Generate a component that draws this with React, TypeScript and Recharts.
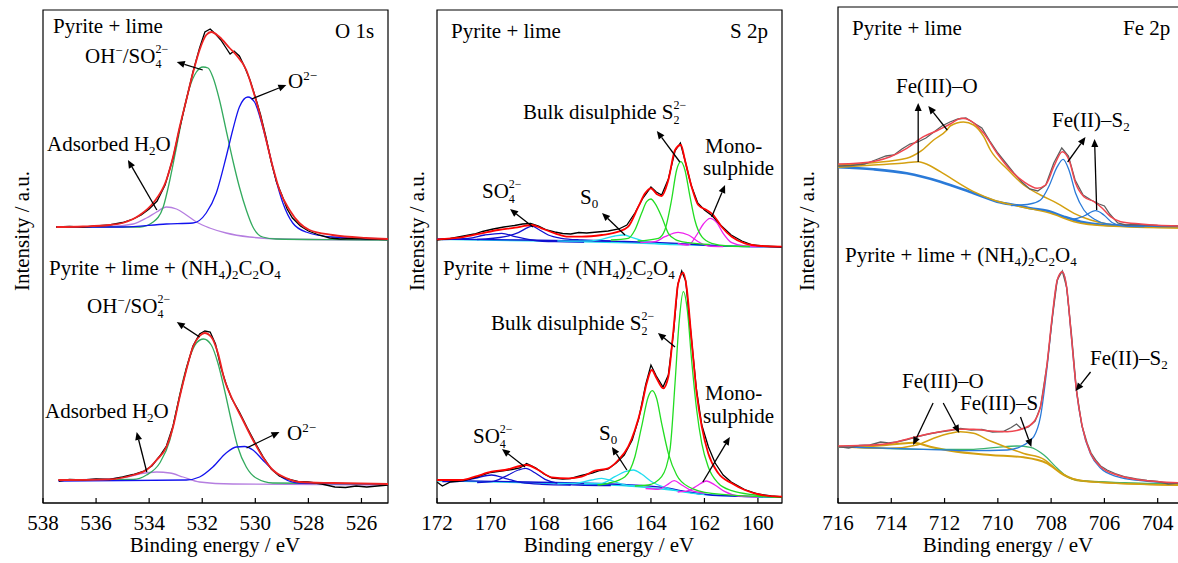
import React from "react";
import { LineChart, Line, XAxis, YAxis, ReferenceLine, ReferenceArea } from "recharts";

type Pt = [number, number];
type Arrow = [number, number, number, number];

// ---------- O 1s ----------
const o1Ticks = [538, 536, 534, 532, 530, 528, 526];

const o1Raw1: Pt[] = [[537.5,273],[537.0,273.5],[536.5,272.8],[536.0,274],[535.5,275],[535.0,277.5],[534.6,281],[534.3,285],[534.0,291],[533.7,299],[533.4,315],[533.1,342],[532.85,372],[532.6,400],[532.35,428],[532.1,452],[531.9,468],[531.7,471],[531.5,466],[531.3,460],[531.1,452],[530.95,446],[530.8,449],[530.6,444],[530.4,433],[530.2,420],[530.0,403],[529.8,385],[529.6,363],[529.4,338],[529.2,318],[529.0,305],[528.8,291],[528.6,282],[528.3,274],[528.0,269],[527.6,265],[527.2,262],[526.8,261],[526.3,261.5],[525.8,261],[525.0,260.5]];
const o1Fit1: Pt[] = [[537.5,273],[536.5,273.5],[535.5,275],[535.0,277],[534.35,285],[533.85,297],[533.35,320],[533.1,343],[532.85,373],[532.6,400],[532.35,427],[532.1,450],[531.85,465],[531.66,468],[531.35,463],[530.97,452],[530.72,445],[530.34,430],[530.09,410],[529.84,387],[529.59,360],[529.34,333],[529.09,310],[528.71,290],[528.34,277],[527.96,270],[527.09,265],[525.83,262],[525.0,261]];
const o1Oh1: Pt[] = [[537.5,273],[535.5,273],[534.35,273],[533.85,278],[533.47,293],[533.22,320],[532.97,353],[532.72,387],[532.47,413],[532.22,428],[531.97,433],[531.78,432],[531.6,423],[531.35,400],[531.1,370],[530.85,340],[530.6,313],[530.34,290],[530.09,273],[529.72,263],[529.22,261],[527.0,260.3],[525.0,260]];
const o1Ox1: Pt[] = [[537.5,273],[535.0,273],[533.35,276],[532.35,277],[531.85,287],[531.47,307],[531.1,343],[530.85,370],[530.6,393],[530.28,403],[530.03,398],[529.72,373],[529.47,347],[529.22,320],[528.96,297],[528.59,277],[528.09,268],[527.09,263],[525.0,261]];
const o1H2o1: Pt[] = [[537.5,273],[535.5,273.5],[534.6,276],[534.1,282],[533.72,288],[533.35,293],[532.97,291],[532.6,285],[532.22,278],[531.72,272],[531.1,267],[530.22,263],[528.96,261],[525.0,260]];

const o1Raw2: Pt[] = [[537.4,19],[537.0,20.5],[536.5,20],[536.0,21],[535.5,20.5],[535.0,23],[534.6,25.5],[534.2,29],[533.9,34],[533.6,44],[533.35,54],[533.1,74],[532.85,104],[532.6,131],[532.35,154],[532.1,166],[531.9,169],[531.7,168],[531.5,156],[531.3,133],[531.1,116],[530.9,102],[530.6,88],[530.3,72],[530.0,57],[529.7,43],[529.4,31],[529.1,24],[528.8,21],[528.4,18.5],[528.0,18],[527.5,16],[527.0,13],[526.6,12.5],[526.2,14],[525.8,13],[525.0,15]];
const o1Fit2: Pt[] = [[537.42,20],[535.48,20.7],[534.6,25],[534.1,30],[533.72,40],[533.35,53],[533.1,73],[532.85,103],[532.6,130],[532.35,153],[532.1,164],[531.91,167],[531.66,163],[531.41,147],[531.16,120],[530.85,100],[530.47,80],[530.09,60],[529.72,43],[529.34,30],[528.84,22],[528.34,18],[527.09,17],[525.0,16]];
const o1Oh2: Pt[] = [[537.42,20],[534.6,20.5],[534.1,25],[533.6,37],[533.22,60],[532.97,90],[532.72,120],[532.47,143],[532.22,157],[531.95,161],[531.66,155],[531.41,137],[531.16,110],[530.91,80],[530.66,53],[530.34,33],[529.97,22],[529.34,17],[525.0,16]];
const o1Ox2: Pt[] = [[537.42,19],[532.6,20],[532.1,23],[531.6,33],[531.1,47],[530.72,53],[530.41,53.5],[530.09,50],[529.72,40],[529.34,30],[528.96,22],[528.34,17],[527.0,16.5],[525.0,16]];
const o1H2o2: Pt[] = [[537.42,20],[535.5,21],[534.85,23],[534.35,26],[533.72,28],[533.22,27],[532.72,23],[532.1,18],[530.85,16],[525.0,15]];

const o1Arrows: Arrow[] = [[531.98,430,532.96,438],[530.14,401,528.83,415],[533.71,290,534.8,340],[532.1,163,532.96,178],[534.09,28,534.47,68],[530.33,52,529.09,68]];

// ---------- S 2p ----------
const s2Ticks = [172, 170, 168, 166, 164, 162, 160];

const s2Raw1: Pt[] = [[172,263],[171.5,264.5],[171.0,267],[170.6,269],[170.3,271.5],[169.9,274],[169.5,276],[169.1,277.5],[168.8,279],[168.5,279.5],[168.2,277],[167.9,273],[167.6,271],[167.3,269.5],[167.0,269],[166.7,270.5],[166.4,270],[166.0,271],[165.6,272],[165.2,274],[164.9,278],[164.6,290],[164.3,305],[164.0,316],[163.8,311],[163.6,308],[163.35,324],[163.1,352],[162.9,360],[162.75,345],[162.5,318],[162.25,300],[162.0,293],[161.7,287],[161.4,278],[161.0,268],[160.6,262],[160.2,258],[159.8,257],[159.1,256]];
const s2Fit1: Pt[] = [[172.0,263.7],[171.08,265.7],[170.33,269.7],[169.71,273],[169.08,275.3],[168.46,278],[168.09,274.7],[167.59,269.7],[167.09,266.3],[166.59,266.3],[165.84,268],[165.22,271.3],[164.85,276.3],[164.47,296.3],[164.22,309.7],[164.0,314.7],[163.79,309],[163.6,307],[163.35,323],[163.1,353],[162.88,358],[162.73,343],[162.48,316.3],[162.23,298],[161.92,293],[161.67,288],[161.36,276.3],[160.98,266.3],[160.49,259.7],[159.86,257],[159.11,256.3]];
const s2SoA1: Pt[] = [[170.5,263.5],[169.46,266.3],[168.96,270.3],[168.59,275.7],[168.44,277],[168.21,273.7],[167.84,268],[167.34,264.7],[166.59,263],[165.5,262]];
const s2SoB1: Pt[] = [[171.8,263.5],[170.83,264.7],[170.21,268],[169.58,269.7],[169.08,266.3],[168.46,263],[167.59,261.3],[166.5,261]];
const s2S01: Pt[] = [[167.5,262.2],[166.59,261.8],[165.84,263.7],[165.35,267],[165.03,268],[164.72,265.7],[164.22,261.3],[163.6,259],[162.8,258.3]];
const s2BulkA1: Pt[] = [[165.5,263],[164.85,264.7],[164.6,273],[164.35,289.7],[164.16,301.3],[164.0,304],[163.85,299.7],[163.6,286.3],[163.35,269.7],[163.1,263.7],[162.6,260.3],[161.8,258.5]];
const s2BulkB1: Pt[] = [[164.5,262],[163.72,264.7],[163.48,273],[163.23,303],[163.04,333],[162.88,341.3],[162.73,333],[162.54,306.3],[162.36,283],[162.1,266.3],[161.73,259.7],[161.11,257],[160.3,256.5]];
const s2MonoA1: Pt[] = [[163.0,259.5],[162.6,258],[162.29,268],[162.04,279],[161.79,284.7],[161.54,280.3],[161.3,269.7],[160.98,260.3],[160.49,257],[159.8,256.3]];
const s2MonoB1: Pt[] = [[164.4,260.5],[163.85,261.3],[163.48,266.3],[162.98,270.7],[162.6,268],[162.23,261.3],[161.85,257],[161.3,256.5]];
const s2BgC1: Pt[] = [[172,263.7],[168.59,262.3],[164.85,260.3],[162.36,258],[159.11,255.7]];
const s2BgB1: Pt[] = [[172,264],[168.6,263],[165.0,261.5],[163.0,259.5],[161.5,257.2],[159.11,256.2]];

const s2Raw2: Pt[] = [[172,21],[171.8,17],[171.5,21],[171.0,22.5],[170.5,26],[170.0,30.5],[169.6,32],[169.2,33.5],[168.9,35],[168.65,39.5],[168.3,35],[168.0,29],[167.7,25],[167.3,24],[167.0,24.5],[166.6,27.5],[166.2,30],[165.9,32.5],[165.6,34],[165.3,40],[165.0,48],[164.7,63],[164.45,85],[164.2,118],[164.0,138],[163.8,127],[163.55,116],[163.35,128],[163.15,172],[163.0,218],[162.85,232],[162.7,222],[162.5,168],[162.3,114],[162.1,78],[161.85,56],[161.6,40],[161.3,28],[161.0,21],[160.5,13.5],[160.0,9],[159.5,7],[159.05,6]];
const s2Fit2: Pt[] = [[172.0,23],[171.08,23],[170.58,26.3],[169.96,31.3],[169.46,33],[168.65,38],[168.21,33],[167.71,25.7],[167.09,24.7],[166.59,26.3],[166.09,32.3],[165.6,34.7],[165.22,43],[164.85,56.3],[164.6,73],[164.35,96.3],[164.16,119.7],[163.97,133],[163.79,124.7],[163.54,114.7],[163.35,126.3],[163.17,169.7],[162.98,219.7],[162.79,230.3],[162.67,216.3],[162.48,163],[162.29,109.7],[162.1,76.3],[161.86,49.7],[161.48,29.7],[160.98,19.7],[160.49,13],[159.86,8],[159.05,6.3]];
const s2SoA2: Pt[] = [[170.5,20.5],[169.96,21.3],[169.46,26.3],[168.96,33],[168.68,34.7],[168.34,30.3],[167.96,23.7],[167.46,19.7],[166.72,18],[165.5,17.5]];
const s2SoB2: Pt[] = [[171.8,21.5],[171.33,21.3],[170.58,24.7],[169.96,28],[169.46,24.7],[168.83,20.3],[168.09,18.7],[167.0,18]];
const s2S0A2: Pt[] = [[166.5,19.5],[165.84,19.7],[165.35,26.3],[164.97,31.3],[164.66,33],[164.35,29],[163.97,21.3],[163.48,15.7],[162.85,11.3],[162.0,8.5]];
const s2S0B2: Pt[] = [[167.5,19.5],[166.84,19.7],[166.22,23],[165.84,24.7],[165.47,22.3],[164.97,18],[164.3,16.5]];
const s2BulkA2: Pt[] = [[166.0,18],[165.6,19.7],[164.97,26.3],[164.6,46.3],[164.35,76.3],[164.1,106.3],[163.95,112.3],[163.79,104.7],[163.6,79.7],[163.35,49.7],[163.04,28],[162.6,16.3],[161.73,9.7],[159.11,5.7]];
const s2BulkB2: Pt[] = [[164.6,17],[164.1,18],[163.6,26.3],[163.29,53],[163.1,119.7],[162.95,179.7],[162.79,211.3],[162.64,193],[162.48,143],[162.29,93],[162.1,59.7],[161.86,36.3],[161.48,19.7],[160.98,12.3],[160.11,8],[159.11,5.7]];
const s2MonoA2: Pt[] = [[163.0,11],[162.6,12.3],[162.29,17],[161.92,22],[161.61,18],[161.23,11.3],[160.74,7],[160.0,6]];
const s2MonoB2: Pt[] = [[164.2,14.5],[163.72,13.7],[163.41,18],[163.13,22.3],[162.85,18],[162.48,12.3],[162.0,10]];
const s2BgC2: Pt[] = [[172,22.3],[168.59,20.3],[164.85,17],[162.98,12.3],[161.73,8],[159.11,5.7]];
const s2BgB2: Pt[] = [[172,22.6],[168.6,21],[165.0,18.5],[163.5,15.5],[162.5,10.5],[161.5,7.5],[159.11,6]];

const s2Arrows: Arrow[] = [[162.92,341,163.78,372],[161.73,286,161.23,318],[168.41,276,169.27,294],[164.97,268,165.83,290],[163.1,156,163.74,170],[162.06,21,161.05,66],[168.71,36,169.57,54],[164.9,33,165.46,56]];

// ---------- Fe 2p ----------
const feTicks = [716, 714, 712, 710, 708, 706, 704];

const feRaw1: Pt[] = [[716,337],[715.5,337.5],[715,339],[714.6,343],[714.2,347],[713.9,348],[713.6,354],[713.3,359],[713.0,361],[712.7,365],[712.4,371],[712.1,377],[711.8,381],[711.5,384],[711.2,385],[710.9,380],[710.6,375],[710.3,362],[710.0,350],[709.7,340],[709.4,330],[709.1,321],[708.8,314],[708.5,312],[708.2,318],[707.9,340],[707.6,355],[707.35,347],[707.1,323],[706.8,308],[706.5,303],[706.2,299],[706.0,297],[705.8,289],[705.5,280],[705.2,278],[704.8,278.5],[704.4,278],[704.0,277.5],[703.2,277]];
const feFit1: Pt[] = [[715.99,339],[715.3,339.7],[714.54,342.3],[714.04,346.3],[713.42,354.7],[712.79,366.3],[712.29,372.3],[711.79,379],[711.35,384.7],[711.03,382.3],[710.53,369.7],[710.03,349.7],[709.53,333],[709.03,321.3],[708.52,314.7],[708.21,318],[707.9,336.3],[707.58,351.3],[707.33,343],[707.08,319.7],[706.77,306.3],[706.39,301.3],[706.08,294.7],[705.77,286.3],[705.39,281.3],[704.64,279],[704.01,277.7],[703.22,277]];
const feOMain1: Pt[] = [[715.99,338],[714.67,340.3],[713.42,344.7],[712.92,351.3],[712.41,363],[711.91,373],[711.79,377],[711.29,381],[710.91,378],[710.53,366.3],[710.28,353],[709.65,334],[709.03,318],[708.4,308],[707.77,299.7],[707.14,289.7],[706.52,283],[705.89,279],[705.26,277],[703.22,275.3]];
const feOSmall1: Pt[] = [[715.99,335.7],[714.67,338],[713.6,339.7],[712.98,341.3],[712.6,338],[712.16,331.3],[710.91,311.3],[710.16,303],[709.15,296.3],[708.02,289.7],[707.14,281.3],[705.89,277],[703.22,275]];
const feBg1: Pt[] = [[715.99,335.7],[714.67,333.7],[713.42,329.7],[712.16,321.3],[710.91,309.7],[710.03,301.3],[709.15,297],[708.78,294.7],[708.15,292.3],[707.52,286.3],[706.89,281.3],[705.89,278],[704.5,277],[703.22,276.3]];
const feS2Main1: Pt[] = [[709.5,297.5],[708.8,299],[708.4,303],[708.09,316.3],[707.77,336.3],[707.55,343.7],[707.33,333],[707.08,309.7],[706.77,293],[706.39,284],[705.89,279],[705.26,277.7],[703.22,276.3]];
const feS2Small1: Pt[] = [[707.6,287],[707.14,284],[706.77,287],[706.33,292.3],[706.02,288],[705.7,280.3],[705.26,277],[704.5,276.5]];

const feRaw2: Pt[] = [[716,56.5],[715.6,55],[715.2,57.5],[714.8,58],[714.4,61],[714.1,60],[713.8,61],[713.4,63.5],[713.0,66.5],[712.6,69],[712.2,71],[711.8,72.5],[711.4,74.5],[711.0,73],[710.6,73.5],[710.2,71],[709.8,71.5],[709.5,75.5],[709.3,79],[709.1,74],[708.85,76],[708.6,82],[708.4,96],[708.15,139],[707.95,186],[707.77,223],[707.58,232],[707.42,216],[707.24,170],[707.05,113],[706.85,78],[706.65,60],[706.5,50],[706.3,42],[706.14,37],[705.9,33],[705.6,29.5],[705.2,26],[704.8,24],[704.4,22.5],[704.0,21.5],[703.6,19],[703.2,20]];
const feFit2: Pt[] = [[715.99,57],[714.67,58],[714.04,59.7],[713.42,63.7],[712.79,68],[712.16,71.3],[711.54,73.7],[710.91,73.7],[710.28,72],[709.65,71.3],[709.03,74.7],[708.65,81.3],[708.4,96.3],[708.15,139.7],[707.96,186.3],[707.77,223],[707.58,231.3],[707.42,216.3],[707.25,169.7],[707.05,113],[706.83,76.3],[706.52,49.7],[706.14,36.3],[705.52,28],[704.64,23],[703.22,20.3]];
const feS2_2: Pt[] = [[715.99,56.3],[712.79,53.7],[710.91,52.3],[709.65,53],[709.03,58],[708.65,66.3],[708.4,86.3],[708.15,136.3],[707.96,184.7],[707.77,222.3],[707.58,231],[707.42,215.7],[707.25,169],[707.05,112.3],[706.83,75.7],[706.52,49],[706.14,34.7],[705.52,26.3],[704.64,22.3],[703.22,19.7]];
const feS3_2: Pt[] = [[715.99,56.3],[712.79,53.7],[710.91,53.7],[710.03,55.7],[709.28,57],[708.78,55.7],[708.27,48],[707.77,34.7],[707.39,26.3],[706.89,22.3],[705.26,20.3],[703.22,19]];
const feOMain2: Pt[] = [[715.99,56.3],[714.04,54.7],[713.04,58],[712.41,64.7],[711.79,69.7],[711.41,71.3],[710.91,69.7],[710.28,62],[709.65,55.5],[709.03,49.5],[708.27,43.7],[707.77,33],[707.27,24.7],[706.52,21.3],[703.22,18]];
const feOSmall2: Pt[] = [[715.99,56.3],[714.67,57],[713.79,59],[713.17,60.3],[712.54,56.3],[711.79,52.3],[710.28,48],[709.03,45.7],[708.15,39.7],[707.52,28],[706.89,22.3],[703.22,18]];

const feArrows: Arrow[] = [[712.99,341,712.99,400],[711.9,373,712.61,397],[707.38,341,706.71,366],[706.29,293,706.37,364],[712.43,100,713.18,58],[712.05,100,711.45,70],[709.15,86,708.74,56],[706.52,131,707.08,112]];

// ---------- drawing ----------
const FONT = '"Liberation Serif", "Times New Roman", serif';
const rows = (a: Pt[]) => a.map(([e, v]) => ({ e, v }));

type Series = { d: Pt[]; c: string; w?: number; raw?: boolean };

function Tick(props: any) {
  const { x, y, payload } = props;
  return (
    <g>
      <line x1={x} x2={x} y1={y} y2={y - 5} stroke="#000" strokeWidth={1.2} />
      <text x={x} y={y + 27} textAnchor="middle" fontSize={21} fontFamily={FONT} fill="#000">
        {payload.value}
      </text>
    </g>
  );
}

function ArrowShape(p: any) {
  const { x1, y1, x2, y2 } = p;
  const dx = x2 - x1;
  const dy = y2 - y1;
  const len = Math.hypot(dx, dy) || 1;
  const ux = dx / len;
  const uy = dy / len;
  const bx = x2 - ux * 8;
  const by = y2 - uy * 8;
  const pts = `${x2},${y2} ${bx - uy * 3.5},${by + ux * 3.5} ${bx + uy * 3.5},${by - ux * 3.5}`;
  return (
    <g>
      <line x1={x1} y1={y1} x2={bx} y2={by} stroke="#000" strokeWidth={1.3} />
      <polygon points={pts} fill="#000" />
    </g>
  );
}

interface PanelCfg {
  left: number;
  width: number;
  ml: number;
  mr: number;
  mt: number;
  xDom: [number, number];
  yDom: [number, number];
  ticks: number[];
  series: Series[];
  arrows: Arrow[];
}

function Panel({ cfg }: { cfg: PanelCfg }) {
  return (
    <div style={{ position: "absolute", left: cfg.left, top: 0 }}>
      <LineChart width={cfg.width} height={563} margin={{ top: cfg.mt, right: cfg.mr, bottom: 0, left: cfg.ml }}>
        <XAxis xAxisId="b" dataKey="e" type="number" domain={cfg.xDom} reversed allowDataOverflow ticks={cfg.ticks} interval={0} height={60} tickSize={0} tickMargin={0} tickLine={false} axisLine={{ stroke: "#000", strokeWidth: 1.2 }} tick={<Tick />} />
        <YAxis yAxisId="l" type="number" domain={cfg.yDom} allowDataOverflow width={0} hide />
        {cfg.series.map((s, i) => (
          <Line
            key={i}
            xAxisId="b"
            yAxisId="l"
            data={rows(s.d)}
            dataKey="v"
            type={s.raw ? "linear" : "monotone"}
            stroke={s.c}
            strokeWidth={s.w ?? 1.3}
            dot={false}
            activeDot={false}
            isAnimationActive={false}
          />
        ))}
        {cfg.arrows.map((a, i) => (
          <ReferenceLine
            key={"a" + i}
            xAxisId="b"
            yAxisId="l"
            ifOverflow="visible"
            segment={[{ x: a[0], y: a[1] }, { x: a[2], y: a[3] }]}
            shape={ArrowShape}
          />
        ))}
        <ReferenceArea
          xAxisId="b"
          yAxisId="l"
          x1={cfg.xDom[0]}
          x2={cfg.xDom[1]}
          y1={cfg.yDom[0]}
          y2={cfg.yDom[1]}
          ifOverflow="visible"
          fill="none"
          fillOpacity={0}
          stroke="#000"
          strokeWidth={1.2}
          strokeOpacity={1}
        />
      </LineChart>
    </div>
  );
}

const O_RED = "#ee2222", O_GREEN = "#33aa5e", O_BLUE = "#1212ee", O_PURP = "#b57ee0";
const S_GREEN = "#22dd22", S_MAG = "#ee22ee", S_CYAN = "#22ddf0", S_BLUE = "#1010d0";
const F_RED = "#ef4650", F_GRAY = "#5e5e5e", F_GOLD = "#d4a010", F_BLUE = "#2a7ad8", F_GREEN = "#3cb371";

const panels: PanelCfg[] = [
  {
    left: 0, width: 400, ml: 43, mr: 12, mt: 10, xDom: [525, 538], yDom: [-3, 490], ticks: o1Ticks,
    series: [
      { d: o1H2o1, c: O_PURP }, { d: o1Oh1, c: O_GREEN }, { d: o1Ox1, c: O_BLUE },
      { d: o1Raw1, c: "#000", raw: true }, { d: o1Fit1, c: O_RED, w: 1.8 },
      { d: o1H2o2, c: O_PURP }, { d: o1Oh2, c: O_GREEN }, { d: o1Ox2, c: O_BLUE },
      { d: o1Raw2, c: "#000", raw: true }, { d: o1Fit2, c: O_RED, w: 1.8 },
    ],
    arrows: o1Arrows,
  },
  {
    left: 395, width: 400, ml: 42, mr: 13, mt: 10, xDom: [159.1, 172], yDom: [0, 493], ticks: s2Ticks,
    series: [
      { d: s2BgC1, c: S_CYAN, w: 1.6 }, { d: s2BgB1, c: S_BLUE }, { d: s2SoA1, c: S_BLUE }, { d: s2SoB1, c: S_BLUE },
      { d: s2S01, c: S_CYAN }, { d: s2MonoB1, c: S_MAG }, { d: s2MonoA1, c: S_MAG },
      { d: s2BulkA1, c: S_GREEN }, { d: s2BulkB1, c: S_GREEN },
      { d: s2Raw1, c: "#000", raw: true }, { d: s2Fit1, c: "#ff0000", w: 1.8 },
      { d: s2BgC2, c: S_CYAN, w: 1.6 }, { d: s2BgB2, c: S_BLUE }, { d: s2SoA2, c: S_BLUE }, { d: s2SoB2, c: S_BLUE },
      { d: s2S0B2, c: S_CYAN }, { d: s2S0A2, c: S_CYAN }, { d: s2MonoB2, c: S_MAG }, { d: s2MonoA2, c: S_MAG },
      { d: s2BulkA2, c: S_GREEN }, { d: s2BulkB2, c: S_GREEN },
      { d: s2Raw2, c: "#000", raw: true }, { d: s2Fit2, c: "#ff0000", w: 1.8 },
    ],
    arrows: s2Arrows,
  },
  {
    left: 790, width: 392, ml: 48, mr: 3, mt: 7, xDom: [703.2, 716], yDom: [0, 496], ticks: feTicks,
    series: [
      { d: feBg1, c: F_BLUE, w: 2.6 }, { d: feOSmall1, c: F_GOLD, w: 1.5 }, { d: feOMain1, c: F_GOLD, w: 1.5 },
      { d: feS2Small1, c: F_BLUE }, { d: feS2Main1, c: F_BLUE },
      { d: feRaw1, c: F_GRAY, raw: true }, { d: feFit1, c: F_RED, w: 1.5 },
      { d: feOSmall2, c: F_GOLD, w: 2 }, { d: feS3_2, c: F_GREEN }, { d: feOMain2, c: F_GOLD, w: 1.5 },
      { d: feS2_2, c: F_BLUE }, { d: feRaw2, c: F_GRAY, raw: true }, { d: feFit2, c: F_RED, w: 1.5 },
    ],
    arrows: feArrows,
  },
];

const SUP: React.CSSProperties = { position: "relative", top: -8, fontSize: 13, lineHeight: 0 };
const SUB: React.CSSProperties = { position: "relative", top: 4, fontSize: 13, lineHeight: 0 };

function Stack({ up, down }: { up: string; down: string }) {
  return (
    <span style={{ position: "relative", display: "inline-block", width: 14, height: 0 }}>
      <span style={{ position: "absolute", left: 0, top: -20, fontSize: 12, lineHeight: "12px" }}>{up}</span>
      <span style={{ position: "absolute", left: 0, top: -5, fontSize: 12, lineHeight: "12px" }}>{down}</span>
    </span>
  );
}

// line box of 16px: baseline sits 15.1px below its top
function Lbl({ x, b, children }: { x: number; b: number; children: React.ReactNode }) {
  return (
    <div style={{ position: "absolute", left: x, top: b - 15.1, fontSize: 21, lineHeight: "16px", whiteSpace: "nowrap" }}>
      {children}
    </div>
  );
}

const Oxalate = () => (
  <>Pyrite + lime + (NH<span style={SUB}>4</span>)<span style={SUB}>2</span>C<span style={SUB}>2</span>O<span style={SUB}>4</span></>
);
const OhSo4 = () => (<>OH<span style={SUP}>−</span>/SO<Stack up="2−" down="4" /></>);
const O2 = () => (<>O<span style={SUP}>2−</span></>);
const H2O = () => (<>Adsorbed H<span style={SUB}>2</span>O</>);
const Bulk = () => (<>Bulk disulphide S<Stack up="2−" down="2" /></>);
const So4 = () => (<>SO<Stack up="2−" down="4" /></>);
const S0 = () => (<>S<span style={SUB}>0</span></>);
const FeS2 = () => (<>Fe(II)–S<span style={SUB}>2</span></>);

const yTitles = [22, 417, 807];
const xTitles = [215, 609, 1008];

export default function App() {
  return (
    <div style={{ position: "absolute", left: 0, top: 0, width: 1178, height: 563, overflow: "hidden", background: "#fff", fontFamily: FONT, color: "#000" }}>
      {panels.map((p, i) => (
        <Panel key={i} cfg={p} />
      ))}

      {yTitles.map((x, i) => (
        <div key={"y" + i} style={{ position: "absolute", left: x, top: 231, fontSize: 21, lineHeight: "16px", whiteSpace: "nowrap", transform: "translate(-50%, -50%) rotate(-90deg)" }}>
          Intensity / a.u.
        </div>
      ))}
      {xTitles.map((x, i) => (
        <div key={"x" + i} style={{ position: "absolute", left: x, top: 552 - 15.1, fontSize: 21, lineHeight: "16px", whiteSpace: "nowrap", transform: "translateX(-50%)" }}>
          Binding energy / eV
        </div>
      ))}

      {/* O 1s */}
      <Lbl x={53} b={33}>Pyrite + lime</Lbl>
      <Lbl x={335} b={38}>O 1s</Lbl>
      <Lbl x={85} b={63}><OhSo4 /></Lbl>
      <Lbl x={288} b={88}><O2 /></Lbl>
      <Lbl x={47} b={151}><H2O /></Lbl>
      <Lbl x={49} b={275}><Oxalate /></Lbl>
      <Lbl x={87} b={313}><OhSo4 /></Lbl>
      <Lbl x={45} b={418}><H2O /></Lbl>
      <Lbl x={287} b={440}><O2 /></Lbl>

      {/* S 2p */}
      <Lbl x={451} b={38}>Pyrite + lime</Lbl>
      <Lbl x={730} b={38}>S 2p</Lbl>
      <Lbl x={523} b={119}><Bulk /></Lbl>
      <Lbl x={705} b={153}>Mono-</Lbl>
      <Lbl x={703} b={175}>sulphide</Lbl>
      <Lbl x={482} b={198}><So4 /></Lbl>
      <Lbl x={580} b={204}><S0 /></Lbl>
      <Lbl x={443} b={275}><Oxalate /></Lbl>
      <Lbl x={491} b={330}><Bulk /></Lbl>
      <Lbl x={705} b={400}>Mono-</Lbl>
      <Lbl x={703} b={423}>sulphide</Lbl>
      <Lbl x={473} b={443}><So4 /></Lbl>
      <Lbl x={599} b={440}><S0 /></Lbl>

      {/* Fe 2p */}
      <Lbl x={852} b={35}>Pyrite + lime</Lbl>
      <Lbl x={1123} b={35}>Fe 2p</Lbl>
      <Lbl x={896} b={93}>Fe(III)–O</Lbl>
      <Lbl x={1052} b={127}><FeS2 /></Lbl>
      <Lbl x={845} b={262}><Oxalate /></Lbl>
      <Lbl x={902} b={388}>Fe(III)–O</Lbl>
      <Lbl x={960} b={410}>Fe(III)–S</Lbl>
      <Lbl x={1090} b={365}><FeS2 /></Lbl>
    </div>
  );
}
